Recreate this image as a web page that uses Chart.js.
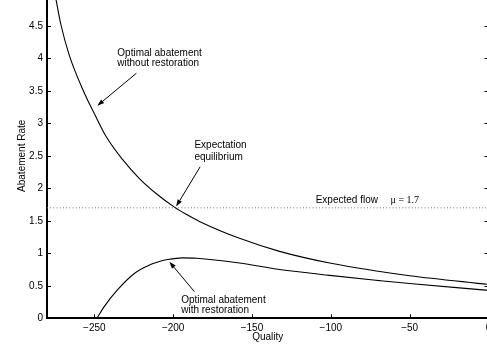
<!DOCTYPE html>
<html><head><meta charset="utf-8">
<script src="https://cdn.jsdelivr.net/npm/chart.js@4/dist/chart.umd.min.js"></script>
<style>
html,body{margin:0;padding:0;width:487px;height:346px;overflow:hidden;background:#fff;}
#wrap{position:absolute;left:0;top:-20px;width:520px;height:366px;}
</style></head><body>
<div id="wrap"><canvas id="c"></canvas></div>
<script>
// ---- data ----
const qualityNoRestoration = [-280, -274.1, -271.2, -265.9, -256.4, -250, -242.6, -232.0, -221.4, -210.8, -199.2, -191.7, -183.3, -157.9, -132.5, -100.7, -68.9, -50, 0];
const rateNoRestoration    = [5.6, 4.88, 4.52, 4.05, 3.47, 3.15, 2.80, 2.44, 2.15, 1.92, 1.71, 1.60, 1.49, 1.23, 1.03, 0.85, 0.72, 0.655, 0.52];
const qualityRestoration   = [-248.3, -243.7, -235.2, -224.6, -214.0, -208.7, -203.4, -194.1, -185, -157.9, -132.5, -100.7, -68.9, -50, 0];
const rateRestoration      = [0, 0.18, 0.44, 0.69, 0.83, 0.875, 0.905, 0.93, 0.925, 0.85, 0.75, 0.66, 0.58, 0.535, 0.43];
const expectedFlowQuality  = [-280, 0];
const expectedFlowRate     = [1.7, 1.7];
const xTickValues = [-250, -200, -150, -100, -50, 0];
const yTickValues = [0, 0.5, 1, 1.5, 2, 2.5, 3, 3.5, 4, 4.5, 5];
const xTitle = "Quality";
const yTitle = "Abatement Rate";
// annotation texts: [text, quality, rate, serif]
const noteTexts = [
  ["Optimal abatement", -235.4, 4.08, false],
  ["without restoration", -235.4, 3.92, false],
  ["Expectation", -186.5, 2.66, false],
  ["equilibrium", -186.5, 2.48, false],
  ["Expected flow", -109.6, 1.81, false],
  ["\u03bc = 1.7", -62.1, 1.81, true],
  ["Optimal abatement", -194.9, 0.28, false],
  ["with restoration", -194.9, 0.13, false]
];
// arrows: [fromQuality, fromRate, toQuality, toRate]
const noteArrows = [
  [-223.3, 3.77, -248.1, 3.27],
  [-182.9, 2.33, -198.1, 1.72],
  [-186.5, 0.41, -202.4, 0.87]
];

const toXY = (xs, ys) => xs.map((x, i) => ({x: x, y: ys[i]}));
const fmt = v => String(v).replace('-', '\u2212');
const SANS = '"Liberation Sans", Arial, Helvetica, sans-serif';

const decor = {
  id: 'decor',
  afterDatasetsDraw(chart) {
    const ctx = chart.ctx, xs = chart.scales.x, ys = chart.scales.y, a = chart.chartArea;
    ctx.save();
    ctx.strokeStyle = '#000'; ctx.lineWidth = 1;
    ctx.beginPath();
    yTickValues.forEach(v => {
      const py = Math.round(ys.getPixelForValue(v)) + 0.5;
      ctx.moveTo(a.left, py); ctx.lineTo(a.left + 4, py);
      ctx.moveTo(a.right - 4, py); ctx.lineTo(a.right, py);
    });
    xTickValues.forEach(v => {
      const px = Math.round(xs.getPixelForValue(v)) + 0.5;
      ctx.moveTo(px, a.bottom); ctx.lineTo(px, a.bottom - 4);
      ctx.moveTo(px, a.top); ctx.lineTo(px, a.top + 4);
    });
    ctx.stroke();
    ctx.fillStyle = '#000';
    ctx.textAlign = 'left'; ctx.textBaseline = 'middle';
    noteTexts.forEach(([t, q, r, serif]) => {
      ctx.font = serif ? '10px "Liberation Serif", "Times New Roman", serif' : '10px ' + SANS;
      ctx.fillText(t, xs.getPixelForValue(q), ys.getPixelForValue(r));
    });
    noteArrows.forEach(([q0, r0, q1, r1]) => {
      const x0 = xs.getPixelForValue(q0), y0 = ys.getPixelForValue(r0);
      const x1 = xs.getPixelForValue(q1), y1 = ys.getPixelForValue(r1);
      const ang = Math.atan2(y1 - y0, x1 - x0);
      const L = 7, W = 2.4;
      const bx = x1 - L * Math.cos(ang), by = y1 - L * Math.sin(ang);
      ctx.beginPath(); ctx.moveTo(x0, y0); ctx.lineTo(bx, by); ctx.stroke();
      ctx.beginPath();
      ctx.moveTo(x1, y1);
      ctx.lineTo(bx + W * Math.sin(ang), by - W * Math.cos(ang));
      ctx.lineTo(bx - W * Math.sin(ang), by + W * Math.cos(ang));
      ctx.closePath(); ctx.fill();
    });
    ctx.restore();
  }
};

Chart.defaults.color = '#000';
Chart.defaults.font.family = SANS;
Chart.defaults.font.size = 10;

new Chart(document.getElementById('c'), {
  type: 'scatter',
  data: {
    datasets: [
      {data: toXY(qualityNoRestoration, rateNoRestoration), showLine: true, borderColor: '#000', borderWidth: 1.1, pointRadius: 0, cubicInterpolationMode: 'monotone'},
      {data: toXY(qualityRestoration, rateRestoration), showLine: true, borderColor: '#000', borderWidth: 1.1, pointRadius: 0, cubicInterpolationMode: 'monotone'},
      {data: toXY(expectedFlowQuality, expectedFlowRate), showLine: true, borderColor: '#777', borderWidth: 1, borderDash: [1, 2.2], pointRadius: 0}
    ]
  },
  options: {
    animation: false, responsive: true, maintainAspectRatio: false,
    layout: {padding: {left: 0, right: 31.5, top: 13.3, bottom: 0}},
    plugins: {legend: {display: false}, tooltip: {enabled: false}},
    events: [],
    scales: {
      x: {
        type: 'linear', min: -280, max: 0,
        afterBuildTicks: s => { s.ticks = xTickValues.map(v => ({value: v})); },
        afterFit: s => { s.height = 27.7; },
        grid: {display: false, drawTicks: false},
        border: {display: true, color: '#000', width: 2},
        ticks: {padding: 4, color: '#000', font: {size: 10}, callback: v => fmt(v), maxRotation: 0, autoSkip: false},
        title: {display: true, text: xTitle, color: '#000', font: {size: 10}, padding: {top: 0, bottom: 3}}
      },
      y: {
        type: 'linear', min: 0, max: 5,
        afterBuildTicks: s => { s.ticks = yTickValues.map(v => ({value: v})); },
        afterFit: s => { s.width = 47; },
        grid: {display: false, drawTicks: false},
        border: {display: true, color: '#000', width: 2},
        ticks: {padding: 4, color: '#000', font: {size: 10}, callback: v => fmt(v), autoSkip: false},
        title: {display: true, text: yTitle, color: '#000', font: {size: 10}, padding: {top: 16, bottom: 0}}
      }
    }
  },
  plugins: [decor]
});
</script>
</body></html>
